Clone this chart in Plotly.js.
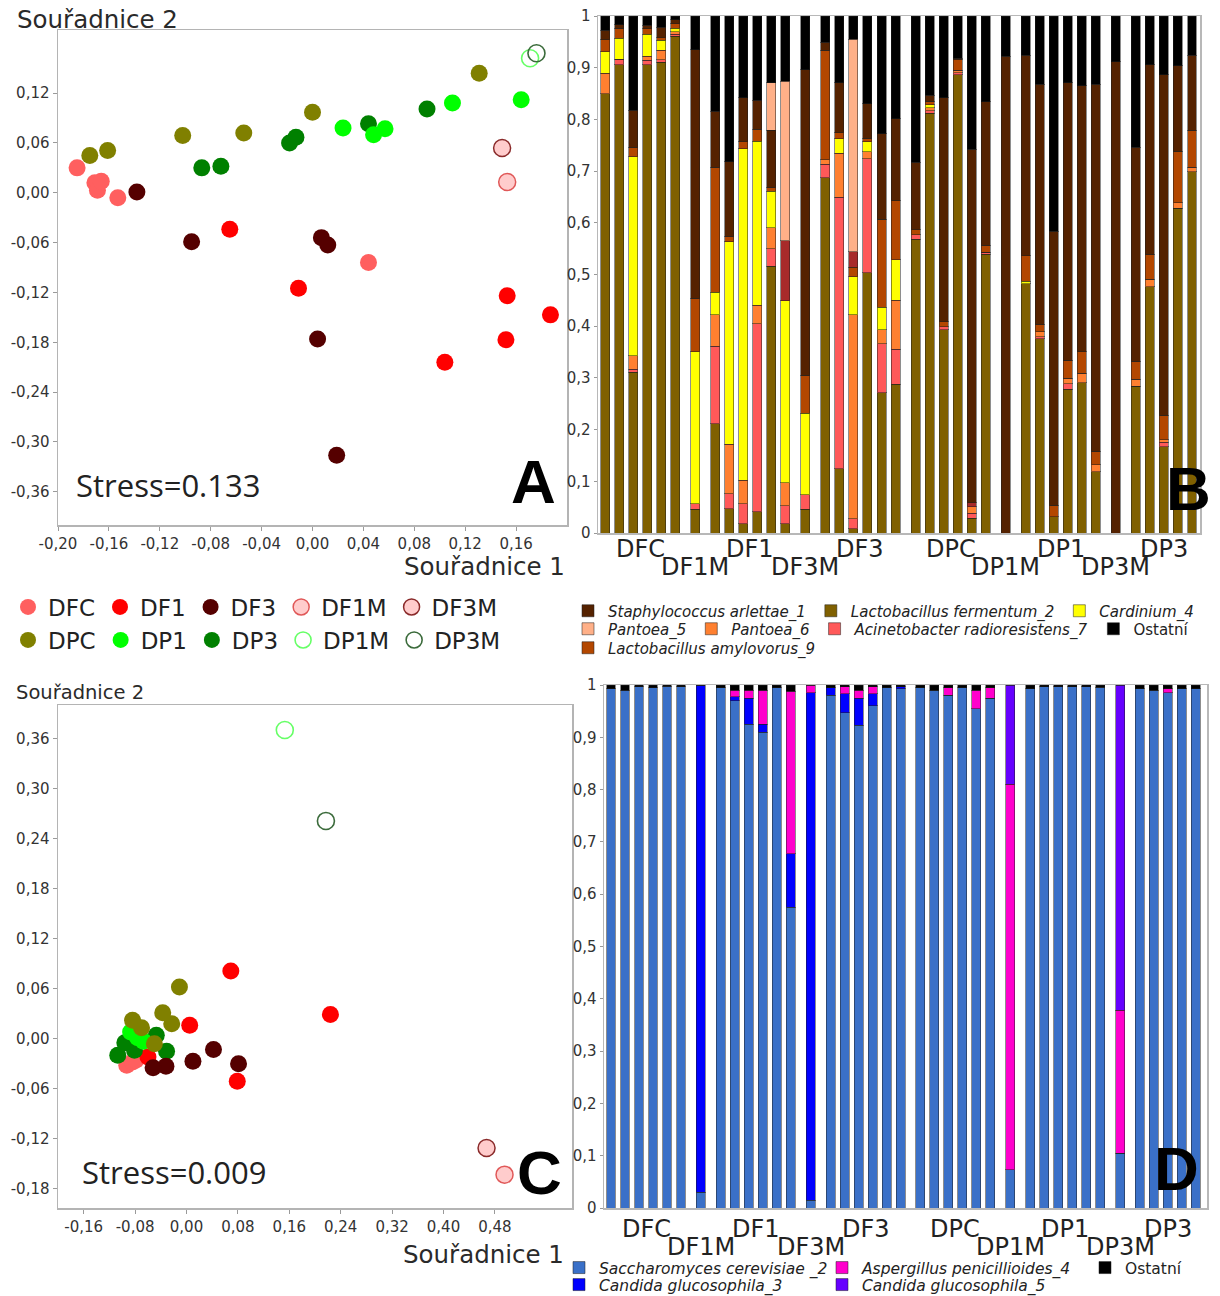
<!DOCTYPE html>
<html><head><meta charset="utf-8">
<script src="https://cdn.plot.ly/plotly-3.0.1.min.js"></script>
<style>body{margin:0;background:#fff}#chart{width:1220px;height:1296px}</style>
</head><body><div id="chart"></div>
<script>
// ---------- scatter groups ----------
const scGroups  = ['DFC','DF1','DF3','DF1M','DF3M','DPC','DP1','DP3','DP1M','DP3M'];
const scFill    = ['#ff5f5f','#ff0000','#550000','#ffcccc','#ffcccc','#808000','#00ff00','#008000','#66ff66','#3b6b3b'];
const scLine    = ['#ff5f5f','#ff0000','#550000','#e05858','#8a2a2a','#808000','#00ff00','#008000','#66ff66','#3b6b3b'];
const scLineW   = [0,0,0,1.5,1.5,0,0,0,1.6,1.6];
const scSymbol  = ['circle','circle','circle','circle','circle','circle','circle','circle','circle-open','circle-open'];

// Panel A (Stress=0.133)
const aDFC_x = [-0.185,-0.171,-0.169,-0.166,-0.153,0.044];
const aDFC_y = [0.030,0.012,0.003,0.014,-0.006,-0.084];
const aDF1_x = [-0.065,-0.011,0.104,0.153,0.152,0.187];
const aDF1_y = [-0.044,-0.115,-0.204,-0.124,-0.177,-0.147];
const aDF3_x = [-0.138,-0.095,0.007,0.012,0.004,0.019];
const aDF3_y = [0.001,-0.059,-0.054,-0.063,-0.176,-0.316];
const aDF1M_x = [0.153];  const aDF1M_y = [0.013];
const aDF3M_x = [0.149];  const aDF3M_y = [0.054];
const aDPC_x = [-0.175,-0.161,-0.102,-0.054,0.000,0.131];
const aDPC_y = [0.045,0.051,0.069,0.072,0.097,0.144];
const aDP1_x = [0.024,0.048,0.057,0.110,0.164];
const aDP1_y = [0.078,0.070,0.077,0.108,0.112];
const aDP3_x = [-0.087,-0.072,-0.018,-0.013,0.044,0.090];
const aDP3_y = [0.030,0.032,0.060,0.067,0.083,0.101];
const aDP1M_x = [0.171];  const aDP1M_y = [0.162];
const aDP3M_x = [0.176];  const aDP3M_y = [0.168];

// Panel C (Stress=0.009)
const cDFC_x = [-0.093,-0.084,-0.079];
const cDFC_y = [-0.032,-0.028,-0.026];
const cDF1_x = [0.069,0.224,0.005,0.079,-0.060];
const cDF1_y = [0.081,0.029,0.016,-0.051,-0.022];
const cDF3_x = [0.042,0.010,0.081,-0.032,-0.052];
const cDF3_y = [-0.013,-0.027,-0.030,-0.033,-0.035];
const cDF1M_x = [0.495];  const cDF1M_y = [-0.163];
const cDF3M_x = [0.467];  const cDF3M_y = [-0.131];
const cDPC_x = [-0.011,-0.037,-0.023,-0.084,-0.070,-0.050];
const cDPC_y = [0.062,0.031,0.018,0.022,0.013,-0.006];
const cDP1_x = [-0.087,-0.076,-0.067];
const cDP1_y = [0.008,0.001,-0.003];
const cDP3_x = [-0.107,-0.096,-0.081,-0.047,-0.031];
const cDP3_y = [-0.020,-0.005,-0.014,0.004,-0.015];
const cDP1M_x = [0.153];  const cDP1M_y = [0.370];
const cDP3M_x = [0.217];  const cDP3M_y = [0.261];

const aSets = [[aDFC_x,aDFC_y],[aDF1_x,aDF1_y],[aDF3_x,aDF3_y],[aDF1M_x,aDF1M_y],[aDF3M_x,aDF3M_y],
               [aDPC_x,aDPC_y],[aDP1_x,aDP1_y],[aDP3_x,aDP3_y],[aDP1M_x,aDP1M_y],[aDP3M_x,aDP3M_y]];
const cSets = [[cDFC_x,cDFC_y],[cDF1_x,cDF1_y],[cDF3_x,cDF3_y],[cDF1M_x,cDF1M_y],[cDF3M_x,cDF3M_y],
               [cDPC_x,cDPC_y],[cDP1_x,cDP1_y],[cDP3_x,cDP3_y],[cDP1M_x,cDP1M_y],[cDP3M_x,cDP3M_y]];

// axis ticks
const aXtickVals = [-0.20,-0.16,-0.12,-0.08,-0.04,0.00,0.04,0.08,0.12,0.16];
const aXtickText = ['-0,20','-0,16','-0,12','-0,08','-0,04','0,00','0,04','0,08','0,12','0,16'];
const aYtickVals = [0.12,0.06,0.00,-0.06,-0.12,-0.18,-0.24,-0.30,-0.36];
const aYtickText = ['0,12','0,06','0,00','-0,06','-0,12','-0,18','-0,24','-0,30','-0,36'];
const cXtickVals = [-0.16,-0.08,0.00,0.08,0.16,0.24,0.32,0.40,0.48];
const cXtickText = ['-0,16','-0,08','0,00','0,08','0,16','0,24','0,32','0,40','0,48'];
const cYtickVals = [0.36,0.30,0.24,0.18,0.12,0.06,0.00,-0.06,-0.12,-0.18];
const cYtickText = ['0,36','0,30','0,24','0,18','0,12','0,06','0,00','-0,06','-0,12','-0,18'];
const barTickVals = [0,0.1,0.2,0.3,0.4,0.5,0.6,0.7,0.8,0.9,1];
const barTickText = ['0','0,1','0,2','0,3','0,4','0,5','0,6','0,7','0,8','0,9','1'];

// ---------- bar groups ----------
const barGroups = ['DFC','DF1M','DF1','DF3M','DF3','DPC','DP1M','DP1','DP3M','DP3'];
const groupSizes = [6,1,6,1,6,6,1,6,1,5];

// Panel B (bacteria), stacked bottom -> top
const bFerm2  = [.850,.906,.311,.906,.911,.961, .046, .211,.047,.018,.041,.516,.018, .046, .687,.124,.008,.503,.271,.288, .568,.812,.393,.886,.029,.539, 0, .482,.376,.031,.278,.291,.118, 0, .284,.476,.167,.628,.699];
const bAcin7  = [0,.010,.006,.008,.004,.004, .011, .150,.029,.039,.364,.034,.035, .028, .026,.525,.020,.221,.095,.067, .009,.005,.006,.004,.009,.004, 0, 0,.004,0,.011,0,0, 0, 0,0,.009,0,0];
const bPant6  = [.039,0,.026,.008,.019,.005, 0, .061,.096,.045,.036,.040,.044, 0, .009,.086,.394,.013,.027,.095, 0,.006,0,.005,.013,0, 0, 0,.009,0,.010,.018,.014, 0, .013,.015,.004,.011,.008];
const bCard4  = [.042,.041,.385,.043,.019,.006, .294, .044,.391,.641,.317,.071,.352, .158, 0,.028,.074,.020,.044,.079, 0,.005,0,0,0,0, 0, .005,0,0,0,0,0, 0, 0,0,0,0,0];
const bAmyl9  = [.023,.019,.018,.010,.005,.009, .103, .241,.011,.014,.023,.008,0, .073, .212,.011,.018,.007,.170,.114, .010,.007,.010,.020,0,.014, 0, .049,.015,.023,.035,.042,.026, 0, .035,.048,.048,.099,.072];
const bOther  = [0,0,0,0,0,0, 0, 0,0,0,0,0,.116, 0, 0,0,.030,0,0,0, 0,0,0,0,.008,0, 0, 0,0,0,0,0,0, 0, 0,0,0,0,0];
const bStaph1 = [.018,.007,.072,.007,.020,.008, .481, .109,.144,.085,.056,.110,0, .591, .015,.097,0,.066,.165,.158, .130,.012,.433,.003,.683,.277, .922, .388,.464,.530,.537,.514,.710, .912, .414,.367,.658,.166,.145];
const bPant5  = [0,0,0,0,0,0, 0, 0,0,0,0,.092,.309, 0, 0,0,.411,0,0,0, 0,0,0,0,0,0, 0, 0,0,0,0,0,0, 0, 0,0,0,0,0];
const bOst    = [.028,.017,.182,.018,.022,.007, .065, .184,.282,.158,.163,.129,.126, .104, .051,.129,.045,.170,.228,.199, .283,.153,.158,.082,.258,.166, .078, .076,.132,.416,.129,.135,.132, .088, .254,.094,.114,.096,.076];

// Panel D (fungi)
const dSacc2 = [.993,.990,.997,.995,.998,.997, .030, .995,.970,.925,.910,.995,.575, .015, .980,.947,.923,.960,.995,.993, .995,.990,.980,.995,.955,.975, .073, .993,.997,.997,.997,.997,.996, .105, .993,.990,.985,.993,.993];
const dCand3 = [0,0,0,0,0,0, .970, 0,.008,.050,.015,0,.102, .970, .015,.036,.052,.023,0,.004, 0,0,0,0,0,0, 0, 0,0,0,0,0,0, 0, 0,0,0,0,0];
const dAsp4  = [0,0,0,0,0,0, 0, 0,.012,.015,.065,0,.311, .015, 0,.014,.015,.014,0,0, 0,0,.015,0,.035,.020, .737, 0,0,0,0,0,0, .273, 0,0,.008,0,0];
const dCand5 = [0,0,0,0,0,0, 0, 0,0,0,0,0,0, 0, 0,0,0,0,0,0, 0,0,0,0,0,0, .190, 0,0,0,0,0,0, .622, 0,0,0,0,0];
const dOst   = [.007,.010,.003,.005,.002,.003, 0, .005,.010,.010,.010,.005,.012, 0, .005,.003,.010,.003,.005,.003, .005,.010,.005,.005,.010,.005, 0, .007,.003,.003,.003,.003,.004, 0, .007,.010,.007,.007,.007];

// ---------- layout helpers ----------
const W = 1220, H = 1296;
const fx = p => p / W, fy = p => 1 - p / H;
const FONT = 'DejaVu Sans, Verdana, sans-serif';

// bar positions: consecutive slots, small gap between groups
const groupGap = 0.42;
const barX = [], groupCenter = [];
(function(){
  let k = 0;
  groupSizes.forEach((n, g) => {
    const s = barX.length;
    for (let j = 0; j < n; j++) { barX.push(k + g * groupGap); k++; }
    const sub = barX.slice(s);
    groupCenter.push(sub.reduce((a, b) => a + b, 0) / sub.length);
  });
})();

const traces = [];
// scatter traces
const drawOrder = [0,1,7,6,5,2,3,4,8,9];
const legRank = [1,2,3,4,5,1,2,3,4,5];
drawOrder.forEach(i => {
  const common = {
    type: 'scatter', mode: 'markers', name: scGroups[i], legendgroup: scGroups[i],
    marker: { size: 17, color: scFill[i], symbol: scSymbol[i],
              line: { color: scLine[i], width: scLineW[i] } },
    hoverinfo: 'x+y+name'
  };
  traces.push(Object.assign({}, common, { x: aSets[i][0], y: aSets[i][1], xaxis: 'x', yaxis: 'y',
    legend: i < 5 ? 'legend' : 'legend2', legendrank: legRank[i] }));
  traces.push(Object.assign({}, common, { x: cSets[i][0], y: cSets[i][1], xaxis: 'x3', yaxis: 'y3', showlegend: false }));
});

const barLine = { width: 1, color: 'rgba(30,30,30,0.5)' };
const bSeries = [
  [bFerm2, '<i>Lactobacillus fermentum_2</i>', '#806000', 'legend3', 2],
  [bAcin7, '<i>Acinetobacter radioresistens_7</i>', '#ff5959', 'legend4', 3],
  [bPant6, '<i>Pantoea_6</i>', '#ff8030', 'legend4', 2],
  [bCard4, '<i>Cardinium_4</i>', '#ffff00', 'legend3', 3],
  [bAmyl9, '<i>Lactobacillus amylovorus_9</i>', '#b34700', 'legend5', 1],
  [bOther, '', '#a82a2a', null, 0],
  [bStaph1, '<i>Staphylococcus arlettae_1</i>', '#552200', 'legend3', 1],
  [bPant5, '<i>Pantoea_5</i>', '#ffb088', 'legend4', 1],
  [bOst, 'Ostatní', '#000000', 'legend4', 4]
];
bSeries.forEach(s => {
  const t = { type: 'bar', x: barX, y: s[0], name: s[1], width: 0.64, xaxis: 'x2', yaxis: 'y2',
    marker: { color: s[2], line: barLine } };
  if (s[3]) { t.legend = s[3]; t.legendrank = s[4]; } else { t.showlegend = false; }
  traces.push(t);
});
const dSeries = [
  [dSacc2, '<i>Saccharomyces cerevisiae _2</i>', '#3a70c8', 'legend6', 1],
  [dCand3, '<i>Candida glucosophila_3</i>', '#0000ff', 'legend7', 1],
  [dAsp4, '<i>Aspergillus penicillioides_4</i>', '#ff00cc', 'legend6', 2],
  [dCand5, '<i>Candida glucosophila_5</i>', '#6600ff', 'legend7', 2],
  [dOst, 'Ostatní', '#000000', 'legend6', 3]
];
dSeries.forEach(s => {
  traces.push({ type: 'bar', x: barX, y: s[0], name: s[1], width: 0.64, xaxis: 'x4', yaxis: 'y4',
    marker: { color: s[2], line: barLine }, legend: s[3], legendrank: s[4] });
});

const lastX = barX[barX.length - 1];
const scAxis = (dom, rng, tv, tt) => ({
  domain: dom, range: rng, tickvals: tv, ticktext: tt, showline: true, mirror: true,
  linecolor: '#b4b4b4', linewidth: 1.5, ticks: 'outside', ticklen: 4, tickcolor: '#9a9a9a',
  zeroline: false, showgrid: false, tickangle: 0, automargin: false,
  tickfont: { family: FONT, size: 15, color: '#333' }
});
const barXAxis = (dom, rng, anchor) => ({
  domain: dom, range: rng, anchor: anchor, showline: true, mirror: true, linecolor: '#b8b8b8',
  linewidth: 1.5, showticklabels: false, ticks: '', zeroline: false, showgrid: false, automargin: false
});
const barYAxis = (dom, anchor) => ({
  domain: dom, range: [0, 1], anchor: anchor, tickvals: barTickVals, ticktext: barTickText,
  showline: true, mirror: true, linecolor: '#b8b8b8', linewidth: 1.5, ticks: 'outside', ticklen: 3,
  tickcolor: '#999', zeroline: false, showgrid: false, automargin: false,
  tickfont: { family: FONT, size: 15, color: '#333' }
});

const ann = [];
const txt = (text, x, y, size, opts) => ann.push(Object.assign({
  text: text, x: fx(x), y: fy(y), xref: 'paper', yref: 'paper', showarrow: false,
  xanchor: 'left', yanchor: 'middle', font: { family: FONT, size: size, color: '#2a2a2a' }
}, opts || {}));
const bigFont = { family: 'Liberation Sans, Arial, sans-serif', size: 62, color: '#000', weight: 'bold' };
txt('Souřadnice 2', 15, 20, 24.5);
txt('Souřadnice 1', 567, 566, 24.5, { xanchor: 'right' });
txt('Stress=0.133', 74, 485, 31, { font: { family: 'Open Sans, sans-serif', size: 31, color: '#222' } });
txt('A', 533, 481, 62, { xanchor: 'center', font: bigFont });
txt('B', 1188, 488, 62, { xanchor: 'center', font: bigFont });
txt('Souřadnice 2', 14, 692, 19.5);
txt('Souřadnice 1', 566, 1254, 24.5, { xanchor: 'right' });
txt('Stress=0.009', 80, 1172, 31, { font: { family: 'Open Sans, sans-serif', size: 31, color: '#222' } });
txt('C', 539, 1172, 62, { xanchor: 'center', font: bigFont });
txt('D', 1176, 1168, 62, { xanchor: 'center', font: bigFont });

// group labels under the bar panels
barGroups.forEach((g, i) => {
  const row2 = groupSizes[i] === 1;
  [['x2', row2 ? 567 : 549], ['x4', row2 ? 1247 : 1229]].forEach(([xr, yy]) => {
    ann.push({ text: g, x: groupCenter[i], xref: xr, y: fy(yy), yref: 'paper', showarrow: false,
      xanchor: 'center', yanchor: 'middle', font: { family: FONT, size: 24, color: '#222' } });
  });
});

const legBase = (x, y, size, extra) => Object.assign({
  orientation: 'h', x: fx(x), y: fy(y), xanchor: 'left', yanchor: 'middle',
  bgcolor: 'rgba(0,0,0,0)', borderwidth: 0, font: { family: FONT, size: size, color: '#222' },
  traceorder: 'normal'
}, extra || {});

const layout = {
  width: W, height: H, autosize: false, margin: { l: 0, r: 0, t: 0, b: 0, pad: 0, autoexpand: false },
  paper_bgcolor: '#fff', plot_bgcolor: '#fff', barmode: 'stack', showlegend: true,
  xaxis:  Object.assign(scAxis([fx(58), fx(567)], [-0.2, 0.2], aXtickVals, aXtickText), { anchor: 'y' }),
  yaxis:  Object.assign(scAxis([fy(525), fy(30)], [-0.4, 0.196], aYtickVals, aYtickText), { anchor: 'x' }),
  xaxis3: Object.assign(scAxis([fx(58), fx(572)], [-0.2, 0.6], cXtickVals, cXtickText), { anchor: 'y3' }),
  yaxis3: Object.assign(scAxis([fy(1208), fy(705)], [-0.203, 0.4], cYtickVals, cYtickText), { anchor: 'x3' }),
  xaxis2: barXAxis([fx(598), fx(1200)], [-0.5, lastX + 0.57], 'y2'),
  yaxis2: barYAxis([fy(533), fy(16)], 'x2'),
  xaxis4: barXAxis([fx(604), fx(1207)], [-0.5, lastX + 0.79], 'y4'),
  yaxis4: barYAxis([fy(1208), fy(685)], 'x4'),
  legend:  legBase(8, 607, 23),
  legend2: legBase(8, 640, 23),
  legend3: legBase(568, 611, 15),
  legend4: legBase(568, 629, 15),
  legend5: legBase(568, 648, 15),
  legend6: legBase(559, 1268, 15.5, { entrywidth: 218, entrywidthmode: 'pixels' }),
  legend7: legBase(559, 1285, 15.5, { entrywidth: 218, entrywidthmode: 'pixels' }),
  annotations: ann
};

Plotly.newPlot('chart', traces, layout, { staticPlot: true, displayModeBar: false });
</script>
</body></html>
